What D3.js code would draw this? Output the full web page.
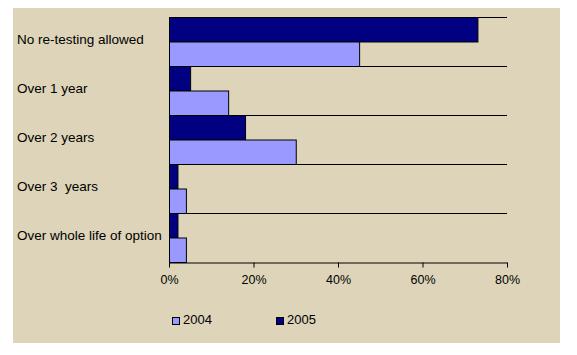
<!DOCTYPE html>
<html><head><meta charset="utf-8">
<script src="https://cdn.jsdelivr.net/npm/d3@7"></script>
<style>
body{margin:0;background:#fff;}
svg{display:block;font-family:Arial,"Liberation Sans",sans-serif;}
</style></head>
<body><svg id="c" width="577" height="355"></svg>
<script>
const categories = ["No re-testing allowed","Over 1 year","Over 2 years","Over 3  years","Over whole life of option"];
const series = ["2005","2004"];
const values2005 = [73, 5, 18, 2, 2];
const values2004 = [45, 14, 30, 4, 4];
const xTicks = [0, 20, 40, 60, 80];
const legendOrder = ["2004","2005"];
const colors = {"2004":"#9999FF","2005":"#000080"};

(function(){
const svg = d3.select("#c");
svg.append("rect").attr("x",13).attr("y",8).attr("width",547).attr("height",335).attr("fill","#DDD4B9");

const pL=169, pR=507, pT=17, pB=262;
const x = d3.scaleLinear().domain([0,80]).range([pL,pR]);
const y = d3.scaleBand().domain(categories).range([pT,pB]).paddingInner(0).paddingOuter(0);
const ys = d3.scaleBand().domain(series).range([0,y.bandwidth()]);

const data = {"2005":values2005,"2004":values2004};

const bounds = categories.map(c=>y(c));
svg.selectAll("line.grid").data(bounds).enter().append("line")
  .attr("x1",pL).attr("x2",pR).attr("y1",d=>d+0.5).attr("y2",d=>d+0.5)
  .attr("stroke","#000").attr("stroke-width",1);

series.forEach(s=>{
  svg.selectAll("rect.b"+s).data(categories).enter().append("rect")
    .attr("x",x(0)+0.5)
    .attr("y",c=>y(c)+ys(s)+0.5)
    .attr("width",(c,i)=>x(data[s][i])-x(0))
    .attr("height",ys.bandwidth())
    .attr("fill",colors[s]).attr("stroke","#000").attr("stroke-width",1);
});

const ax = svg.append("g").attr("transform",`translate(0,${pB+0.5})`)
  .call(d3.axisBottom(x).tickValues(xTicks).tickFormat(d=>d+"%").tickSize(5).tickSizeOuter(0));
ax.select(".domain").attr("stroke","#000");
ax.selectAll(".tick line").attr("stroke","#000");
ax.selectAll("text").attr("font-size","12.5px").attr("fill","#000").attr("dy","1.05em")
  .attr("font-family","Arial,'Liberation Sans',sans-serif");
svg.append("line").attr("x1",pL+0.5).attr("x2",pL+0.5).attr("y1",pT).attr("y2",pB).attr("stroke","#000");

svg.selectAll("text.cat").data(categories).enter().append("text")
  .attr("x",17).attr("y",c=>y(c)+y.bandwidth()/2-1)
  .attr("dominant-baseline","middle")
  .attr("font-size","13.5px").attr("fill","#000")
  .style("white-space","pre")
  .text(c=>c);

const lx = d3.scalePoint().domain(legendOrder).range([172,276]);
const lg = svg.selectAll("g.leg").data(legendOrder).enter().append("g")
  .attr("transform",d=>`translate(${lx(d)},317)`);
lg.append("rect").attr("x",0.5).attr("y",0.5).attr("width",7).attr("height",7)
  .attr("fill",d=>colors[d]).attr("stroke","#000");
lg.append("text").attr("x",11).attr("y",4).attr("dominant-baseline","middle")
  .attr("font-size","13px").attr("fill","#000").text(d=>d);
})();
</script></body></html>
